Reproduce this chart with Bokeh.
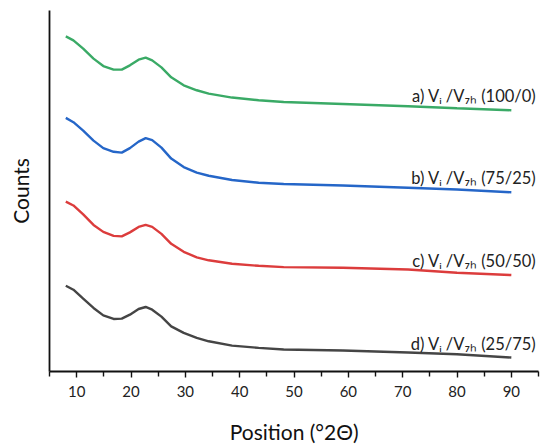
from bokeh.plotting import figure
from bokeh.models import FixedTicker, ColumnDataSource
from bokeh.core.properties import value
from bokeh.embed import file_html
from bokeh.resources import INLINE

position = [8.0, 9.4, 11.2, 13.1, 14.9, 16.8, 18.3, 19.8, 21.4, 22.7, 23.9, 25.6,
            27.4, 29.7, 32.1, 34.3, 38.6, 43.5, 48.1, 59.0, 71.0, 80.0, 90.0]

counts_a = [336, 332, 323.7, 313.7, 306.3, 302.7, 302.7, 307, 312.7, 314.7, 312, 305,
            295, 287, 282, 278.7, 274.7, 272, 270.3, 268.3, 266, 264, 262]
counts_b = [254.3, 250, 241.5, 231.5, 224, 220.3, 219.5, 224, 230.5, 234, 232, 224.5,
            213.5, 205, 199.5, 196.3, 192, 189.3, 188, 186.5, 184.3, 182.5, 179.7]
counts_c = [170.3, 166.5, 157.5, 147, 140, 136, 135.5, 139.5, 145, 147, 145, 138,
            128, 120, 114.5, 111.5, 108, 106, 104.7, 104, 102.3, 99, 96.7]
counts_d = [86, 82, 73, 63.7, 56.3, 52.7, 53, 57, 62.7, 64.7, 62, 55,
            45.3, 38.7, 33.7, 30.3, 26, 23.7, 22, 21, 19, 17.3, 14]

series_labels = ["a) V\u1d62 /V\u2087\u2095 (100/0)",
                 "b) V\u1d62 /V\u2087\u2095 (75/25)",
                 "c) V\u1d62 /V\u2087\u2095 (50/50)",
                 "d) V\u1d62 /V\u2087\u2095 (25/75)"]
colors = ["#3aaa66", "#2566c8", "#dc3c3c", "#454545"]

major_ticks = [10, 20, 30, 40, 50, 60, 70, 80, 90]
minor_ticks = [5, 15, 25, 35, 45, 55, 65, 75, 85, 95]

FONT = "Lato"

p = figure(width=550, height=446, x_range=(5, 95), y_range=(0, 362),
           output_backend="svg", toolbar_location=None,
           min_border_left=49, min_border_right=12, min_border_top=10, min_border_bottom=74)
p.outline_line_color = None
p.xgrid.visible = False
p.ygrid.visible = False

for ys, c, lab in zip([counts_a, counts_b, counts_c, counts_d], colors, series_labels):
    p.line(position, ys, line_color=c, line_width=2.4)
    src = ColumnDataSource(dict(x=[94.6], y=[ys[-1]], t=[lab]))
    p.text(x="x", y="y", text="t", source=src, text_align="right",
           text_baseline="alphabetic", y_offset=-14, text_font_size="16.5px",
           text_font=value(FONT), text_color="#222222")

xa = p.xaxis[0]
xa.ticker = FixedTicker(ticks=major_ticks, minor_ticks=minor_ticks)
xa.axis_label = "Position (°2Θ)"
xa.axis_label_text_font = FONT
xa.axis_label_text_font_size = "21px"
xa.axis_label_text_font_style = "normal"
xa.axis_label_text_color = "#111111"
xa.axis_label_standoff = 19
xa.major_label_text_font = FONT
xa.major_label_text_font_size = "15px"
xa.major_label_text_color = "#222222"
xa.major_label_standoff = 8
xa.axis_line_width = 1.8
xa.axis_line_color = "#111111"
xa.major_tick_in = 0
xa.major_tick_out = 6
xa.minor_tick_in = 0
xa.minor_tick_out = 5
xa.major_tick_line_width = 1.4
xa.minor_tick_line_width = 1.4
xa.major_tick_line_color = "#111111"
xa.minor_tick_line_color = "#111111"

ya = p.yaxis[0]
ya.ticker = FixedTicker(ticks=[], minor_ticks=[])
ya.axis_label = "Counts"
ya.axis_label_text_font = FONT
ya.axis_label_text_font_size = "21px"
ya.axis_label_text_font_style = "normal"
ya.axis_label_text_color = "#111111"
ya.axis_label_standoff = 17
ya.major_tick_line_color = None
ya.minor_tick_line_color = None
ya.axis_line_width = 1.8
ya.axis_line_color = "#111111"

open("out.html", "w").write(file_html(p, INLINE))
